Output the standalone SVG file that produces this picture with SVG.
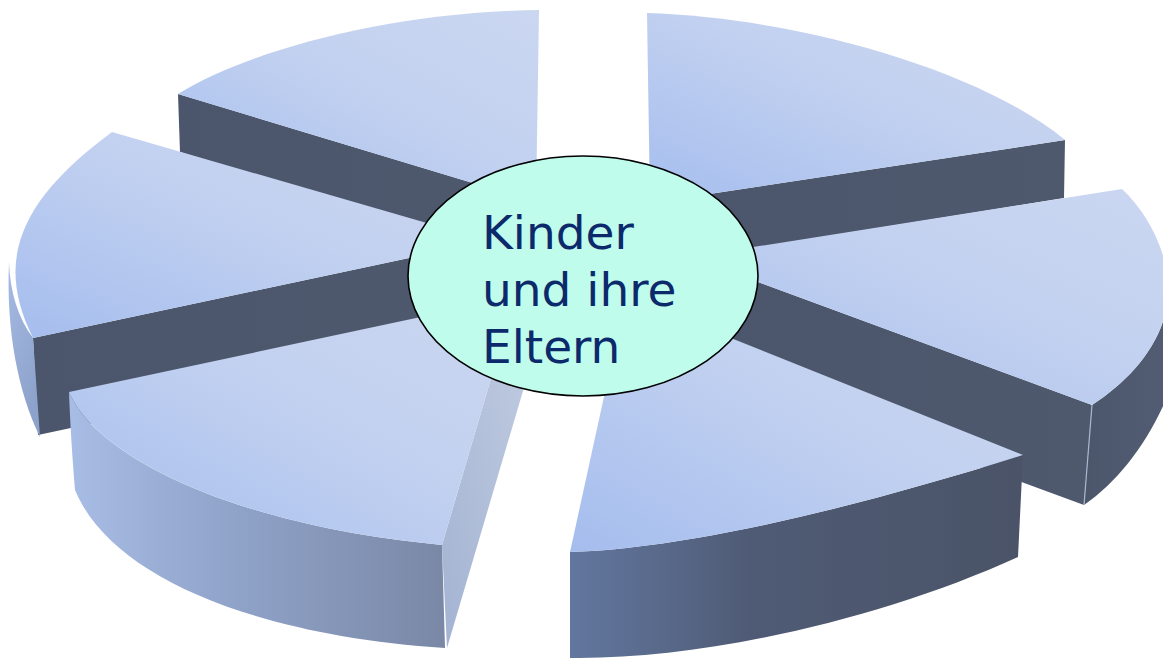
<svg xmlns="http://www.w3.org/2000/svg" width="1163" height="661" viewBox="0 0 1163 661">
  <defs>
    <linearGradient id="topFace" x1="0" y1="1" x2="1" y2="0">
      <stop offset="0" stop-color="#a5bdee"/>
      <stop offset="0.55" stop-color="#c2d1f0"/>
      <stop offset="1" stop-color="#cbd7f1"/>
    </linearGradient>
    <linearGradient id="darkFace" x1="0" y1="0" x2="1" y2="0">
      <stop offset="0" stop-color="#4b556b"/>
      <stop offset="1" stop-color="#4f596e"/>
    </linearGradient>
    <linearGradient id="sideB" x1="0" y1="0" x2="0.4" y2="1">
      <stop offset="0" stop-color="#a6bbe4"/>
      <stop offset="1" stop-color="#8ca2cb"/>
    </linearGradient>
    <linearGradient id="sideC" x1="0" y1="0" x2="1" y2="0">
      <stop offset="0" stop-color="#a8bde5"/>
      <stop offset="0.45" stop-color="#8fa2c8"/>
      <stop offset="1" stop-color="#7a88a6"/>
    </linearGradient>
    <linearGradient id="rightC" x1="1" y1="0" x2="0" y2="1">
      <stop offset="0" stop-color="#c3cee2"/>
      <stop offset="1" stop-color="#a3b3d2"/>
    </linearGradient>
    <linearGradient id="sideD" x1="0" y1="0" x2="1" y2="0">
      <stop offset="0" stop-color="#62779f"/>
      <stop offset="0.4" stop-color="#4f5b75"/>
      <stop offset="1" stop-color="#4a5367"/>
    </linearGradient>
    <linearGradient id="sideE" x1="0" y1="0" x2="1" y2="0">
      <stop offset="0" stop-color="#4c566b"/>
      <stop offset="1" stop-color="#525d74"/>
    </linearGradient>
  </defs>
  <style>
    .top { fill: url(#topFace); }
    .dark { fill: url(#darkFace); }
    .hub { fill: #bffcec; stroke: #000; stroke-width: 1.6; }
    .label { font-family: "DejaVu Sans", Verdana, sans-serif; font-size: 47px; fill: #0c2a6b; }
  </style>

  <rect width="1163" height="661" fill="#ffffff"/>

  <!-- back-left slice -->
  <g id="slice-top-left">
    <polygon class="dark" points="178,94 536,202 536,262 180,152"/>
    <path class="top" d="M536,202 L178,94 C250,50 390,12 539,10 Z"/>
  </g>

  <!-- back-right slice -->
  <g id="slice-top-right">
    <polygon class="dark" points="650,203 1065,140 1064,198 650,265"/>
    <path class="top" d="M650,203 L647,13 C800,18 980,70 1065,140 Z"/>
  </g>

  <!-- left slice -->
  <g id="slice-left">
    <polygon class="dark" points="33,338 489,241 489,339 38,435"/>
    <path fill="url(#sideB)" d="M9,262 C6,330 18,392 40,437 L33,338 C18,318 10,292 9,262 Z"/>
    <path class="top" d="M489,241 L112,132 C20,200 -6,260 33,338 Z"/>
  </g>

  <!-- right slice -->
  <g id="slice-right">
    <polygon class="dark" points="690,257 1092,405 1084,505 690,360"/>
    <path fill="url(#sideE)" d="M1092,405 C1130,380 1162,345 1168,300 L1170,390 C1150,440 1120,480 1084,505 Z"/>
    <line x1="1092" y1="405" x2="1084" y2="505" stroke="#a9b6d0" stroke-width="1.2"/>
    <path class="top" d="M690,257 L1122,189 C1150,215 1172,260 1168,300 C1162,345 1130,380 1092,405 Z"/>
  </g>

  <!-- front-left slice -->
  <g id="slice-bottom-left">
    <polygon fill="url(#rightC)" points="515,297 442,545 447,648 541,330"/>
    <path fill="url(#sideC)" d="M69,392 C95,455 230,525 442,545 L445,648 C250,635 110,575 75,490 C72,455 70,420 69,392 Z"/>
    <path class="top" d="M515,297 L69,392 C95,455 230,525 442,545 Z"/>
  </g>

  <!-- front-right slice -->
  <g id="slice-bottom-right">
    <path fill="url(#sideD)" d="M570,552 C700,548 880,500 1023,455 L1018,557 C880,620 700,660 570,658 Z"/>
    <path class="top" d="M626,296 L1023,455 C880,500 700,548 570,552 Z"/>
  </g>

  <!-- centre label -->
  <g id="hub">
    <ellipse class="hub" cx="583" cy="276" rx="175" ry="120"/>
    <text class="label" x="482" y="249">Kinder</text>
    <text class="label" x="482" y="306">und ihre</text>
    <text class="label" x="482" y="363">Eltern</text>
  </g>
</svg>
